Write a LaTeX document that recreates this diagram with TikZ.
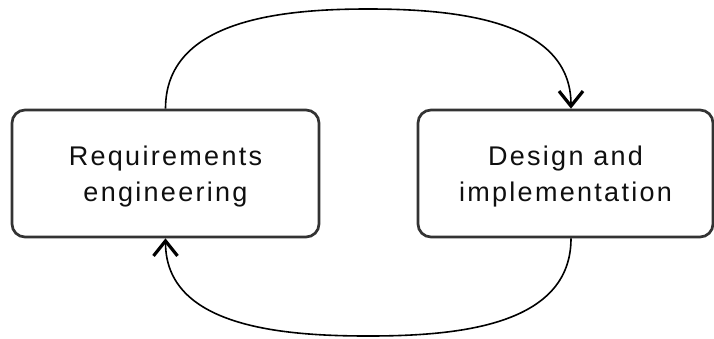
\documentclass[tikz,border=0pt]{standalone}
\usepackage{fontspec}
\setmainfont{Liberation Sans}[LetterSpace=8.5]
\usetikzlibrary{arrows.meta}
\definecolor{boxline}{HTML}{333333}
\definecolor{inktext}{HTML}{0f0f0f}
\tikzset{
  stagebox/.style={draw=boxline, line width=2.7pt, rounded corners=13pt,
    fill=white, minimum height=127pt, inner sep=0pt},
  stagetext/.style={align=center, text=inktext, inner sep=0pt,
    font=\fontsize{27}{36}\selectfont},
  flow/.style={draw=black, line width=1.6pt,
    -{Straight Barb[length=15pt, width=24pt, line width=3.2pt]}}
}
\begin{document}
\begin{tikzpicture}[x=1pt, y=-1pt]
  \useasboundingbox (0,0) rectangle (714,338);
  % the two stages
  \node[stagebox, minimum width=307pt] (req) at (165.5,173.5) {};
  \node[stagebox, minimum width=295pt] (dsn) at (565.5,173.5) {};
  \node[stagetext] (reqtext) at ([yshift=-3pt]req.center)
    {Requirements\\engineering};
  \node[stagetext] (dsntext) at ([yshift=-3pt]dsn.center)
    {Design and\\implementation};
  % the loop between them
  \coordinate (topmid) at (368,9);
  \coordinate (botmid) at (368,336);
  \draw[flow] (req.north) to[out=90, in=180] (topmid)
    to[out=0, in=90] ([xshift=5.5pt]dsn.north);
  \draw[flow] ([xshift=5.5pt]dsn.south) to[out=-90, in=0] (botmid)
    to[out=180, in=-90] (req.south);
\end{tikzpicture}
\end{document}
